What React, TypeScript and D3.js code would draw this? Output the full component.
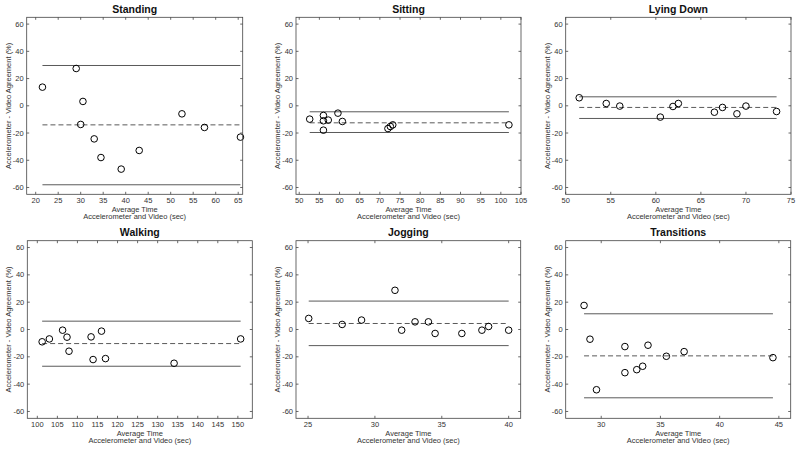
import React from "react";
import * as d3 from "d3";

// ---- Data ----
const standingX = [21.5, 29.0, 30.5, 30.0, 33.0, 34.5, 39.0, 43.0, 52.5, 57.5, 65.5];
const standingY = [13.7, 27.4, 3.2, -13.7, -24.3, -38.0, -46.5, -32.8, -5.9, -15.9, -23.0];
const standingLoA = [29.6, -14.0, -58.0];

const sittingX = [52.6, 56.0, 56.0, 56.0, 57.2, 59.6, 60.7, 72.0, 72.6, 73.2, 102.0];
const sittingY = [-9.8, -7.1, -11.0, -17.9, -10.5, -5.4, -11.5, -16.7, -15.2, -14.0, -14.0];
const sittingLoA = [-4.4, -12.5, -19.6];

const lyingX = [51.5, 54.5, 56.0, 60.5, 61.9, 62.5, 66.5, 67.4, 69.0, 70.0, 73.4];
const lyingY = [5.9, 1.7, -0.2, -8.3, -0.5, 1.7, -4.7, -1.2, -5.9, -0.2, -4.2];
const lyingLoA = [6.6, -1.2, -9.3];

const walkingX = [101.2, 103.0, 106.3, 107.4, 107.9, 113.4, 113.9, 116.0, 117.0, 134.1, 150.7];
const walkingY = [-9.0, -6.9, -0.5, -5.6, -15.9, -5.4, -22.0, -1.2, -21.3, -24.7, -6.9];
const walkingLoA = [6.1, -10.3, -26.9];

const joggingX = [25.05, 27.55, 29.0, 31.5, 32.0, 33.0, 34.0, 34.5, 36.5, 38.0, 38.5, 40.0];
const joggingY = [8.1, 3.7, 6.9, 28.7, -0.5, 5.6, 5.6, -2.9, -2.9, -0.5, 2.2, -0.5];
const joggingLoA = [20.8, 4.4, -11.8];

const transitionsX = [28.55, 29.05, 29.6, 32.0, 32.0, 33.0, 33.5, 33.95, 35.5, 37.0, 44.5];
const transitionsY = [17.6, -7.1, -44.1, -12.5, -31.6, -29.4, -26.9, -11.5, -19.6, -16.2, -20.6];
const transitionsLoA = [11.5, -19.3, -50.0];

const titles = ["Standing", "Sitting", "Lying Down", "Walking", "Jogging", "Transitions"];
const xDomains: [number, number][] = [
  [18, 66], [49.2, 105], [50, 75], [97.5, 153.6], [24.1, 40.9], [27, 46],
];
const xTicks = [
  d3.range(20, 66, 5), d3.range(50, 106, 5), d3.range(50, 76, 5),
  d3.range(100, 151, 5), d3.range(25, 41, 5), d3.range(30, 46, 5),
];
const yTicks = [-60, -40, -20, 0, 20, 40, 60];
const yDomain: [number, number] = [-65, 65];
const xLabel1 = "Average Time";
const xLabel2 = "Accelerometer and Video (sec)";
const yLabel = "Accelerometer - Video Agreement (%)";

const panelsData = [
  [standingX, standingY, standingLoA],
  [sittingX, sittingY, sittingLoA],
  [lyingX, lyingY, lyingLoA],
  [walkingX, walkingY, walkingLoA],
  [joggingX, joggingY, joggingLoA],
  [transitionsX, transitionsY, transitionsLoA],
];

// ---- Layout ----
const boxes = [
  { l: 26.7, r: 242.7, t: 17.3, b: 194.3 },
  { l: 296, r: 521, t: 17.3, b: 194.3 },
  { l: 565.7, r: 791, t: 17.3, b: 194.3 },
  { l: 27.3, r: 252.3, t: 240.7, b: 418.3 },
  { l: 296, r: 520.7, t: 240.7, b: 418.3 },
  { l: 565.7, r: 790.7, t: 240.7, b: 418.3 },
];

const FONT = "'Liberation Sans Narrow', 'Liberation Sans', Arial, sans-serif";
const TXT = "#333";
const TICK = 2.5;

function Panel({ i }: { i: number }) {
  const bx = boxes[i];
  const [xs, ys, loa] = panelsData[i];
  const x = d3.scaleLinear().domain(xDomains[i]).range([bx.l, bx.r]);
  const y = d3.scaleLinear().domain(yDomain).range([bx.b, bx.t]);
  const xmin = d3.min(xs)!;
  const xmax = d3.max(xs)!;
  const cx = (bx.l + bx.r) / 2;
  const cy = (bx.t + bx.b) / 2;
  return (
    <g>
      <text x={cx} y={bx.t - 4.5} textAnchor="middle" fontFamily={FONT} fontWeight="bold" fontSize={10.5} fill="#111">
        {titles[i]}
      </text>
      {/* LoA lines */}
      {loa.map((v, k) => (
        <line key={k} x1={x(xmin)} x2={x(xmax)} y1={y(v)} y2={y(v)}
          stroke="#5a5a5a" strokeWidth={1}
          strokeDasharray={k === 1 ? "5,3" : undefined} />
      ))}
      {/* points */}
      {xs.map((v, k) => (
        <circle key={k} cx={x(v)} cy={y(ys[k])} r={3.3} fill="none" stroke="#000" strokeWidth={1} />
      ))}
      {/* box */}
      <rect x={bx.l} y={bx.t} width={bx.r - bx.l} height={bx.b - bx.t} fill="none" stroke="#444" strokeWidth={0.8} />
      {/* x ticks */}
      {xTicks[i].map((t) => (
        <g key={"x" + t}>
          <line x1={x(t)} x2={x(t)} y1={bx.b} y2={bx.b - TICK} stroke="#444" strokeWidth={0.8} />
          <line x1={x(t)} x2={x(t)} y1={bx.t} y2={bx.t + TICK} stroke="#444" strokeWidth={0.8} />
          <text x={x(t)} y={bx.b + 8.8} textAnchor="middle" fontFamily={FONT} fontSize={7.5} fill={TXT}>{t}</text>
        </g>
      ))}
      {/* y ticks */}
      {yTicks.map((t) => (
        <g key={"y" + t}>
          <line x1={bx.l} x2={bx.l + TICK} y1={y(t)} y2={y(t)} stroke="#444" strokeWidth={0.8} />
          <line x1={bx.r} x2={bx.r - TICK} y1={y(t)} y2={y(t)} stroke="#444" strokeWidth={0.8} />
          <text x={bx.l - 3} y={y(t) + 2.6} textAnchor="end" fontFamily={FONT} fontSize={7.5} fill={TXT}>{t}</text>
        </g>
      ))}
      <text x={cx} y={bx.b + 17.3} textAnchor="middle" fontFamily={FONT} fontSize={7.5} fill={TXT}>{xLabel1}</text>
      <text x={cx} y={bx.b + 25} textAnchor="middle" fontFamily={FONT} fontSize={7.5} fill={TXT}>{xLabel2}</text>
      <text transform={`translate(${bx.l - 16.2},${cy}) rotate(-90)`} textAnchor="middle" fontFamily={FONT} fontSize={7.5} fill={TXT}>
        {yLabel}
      </text>
    </g>
  );
}

export default function App() {
  return (
    <svg width={800} height={451} style={{ position: "absolute", left: 0, top: 0, background: "#fff" }}>
      <rect width={800} height={451} fill="#fff" />
      {titles.map((_, i) => <Panel key={i} i={i} />)}
    </svg>
  );
}
